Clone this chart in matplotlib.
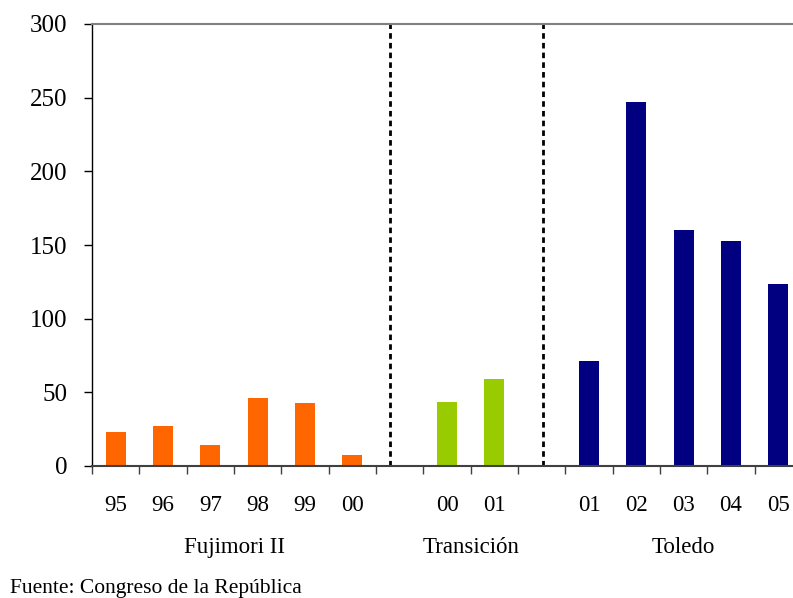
import numpy as np
import matplotlib.pyplot as plt

# datos por periodo
cat_fuji = ["95", "96", "97", "98", "99", "00"]
val_fuji = [23, 27, 14, 46, 43, 7.5]
cat_trans = ["00", "01"]
val_trans = [43.5, 59]
cat_tol = ["01", "02", "03", "04", "05"]
val_tol = [71, 247, 160, 153, 123.5]
grupos = ["Fujimori II", "Transición", "Toledo"]
fuente = "Fuente: Congreso de la República"

plt.rcParams['font.family'] = ['Liberation Serif', 'DejaVu Serif']

fig = plt.figure(figsize=(7.93, 5.98), dpi=100)
ax = fig.add_axes([92/793, 1-466/598, 710/793, 442/598])

# posiciones: una categoria vacia entre grupos
x_fuji = np.arange(len(cat_fuji)) + 0.5
x_trans = len(cat_fuji) + 1 + np.arange(len(cat_trans)) + 0.5
x_tol = len(cat_fuji) + len(cat_trans) + 2 + np.arange(len(cat_tol)) + 0.5
n = len(cat_fuji) + len(cat_trans) + len(cat_tol) + 2

w = 0.42
ax.bar(x_fuji, val_fuji, w, color="#FF6600")
ax.bar(x_trans, val_trans, w, color="#99CC00")
ax.bar(x_tol, val_tol, w, color="#000080")

ax.axvline(6.3, color="black", ls=(0, (2, 1.5)), lw=2)
ax.axvline(9.52, color="black", ls=(0, (2, 1.5)), lw=2)

ax.set_xlim(0, n)
ax.set_ylim(0, 300)
ax.set_yticks(np.arange(0, 301, 50))

# ticks en los limites, etiquetas en los centros
ax.set_xticks(np.arange(0, n + 1))
ax.set_xticklabels([])
ax.set_xticks(np.concatenate([x_fuji, x_trans, x_tol]), minor=True)
ax.set_xticklabels(cat_fuji + cat_trans + cat_tol, minor=True)
ax.tick_params(axis="x", which="major", length=6, width=1, color="#404040")
ax.tick_params(axis="x", which="minor", length=0, pad=21, labelsize=16.5)
ax.tick_params(axis="y", length=6, width=1, pad=12, labelsize=18)

ax.spines["right"].set_visible(False)
ax.spines["top"].set_color("#808080")
ax.spines["top"].set_linewidth(1.5)
ax.spines["bottom"].set_color("#404040")
ax.spines["bottom"].set_linewidth(1.5)
ax.spines["left"].set_linewidth(1)

centros = [x_fuji.mean(), x_trans.mean(), x_tol.mean()]
for c, g in zip(centros, grupos):
    ax.text(c, -55, g, ha="center", va="center", fontsize=16.5)

fig.text(10/793, 1-588/598, fuente, ha="left", va="center", fontsize=15.5)

fig.savefig("out.png", dpi=100)
